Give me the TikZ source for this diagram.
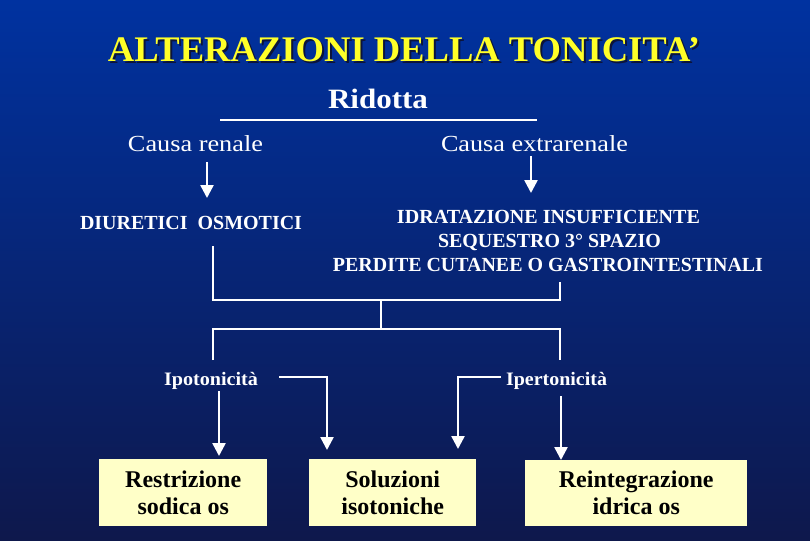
\documentclass[tikz,border=0pt]{standalone}
\usepackage{fontspec}
\setmainfont{Liberation Serif}
\usepackage{graphicx}
\usetikzlibrary{arrows.meta}
\definecolor{bgtop}{RGB}{0,50,160}
\definecolor{bgmid}{RGB}{6,38,126}
\definecolor{bgbot}{RGB}{14,24,76}
\definecolor{ttl}{RGB}{255,255,40}
\definecolor{ttlshadow}{RGB}{12,20,58}
\definecolor{boxfill}{RGB}{255,255,200}
\newcommand{\fw}[2]{\resizebox{#1}{\height}{#2}}
\tikzset{
  lbl/.style={text=white, inner sep=0pt, anchor=base},
  conn/.style={white, line width=2pt},
  arr/.style={white, line width=2.5pt, -{Triangle[width=13pt,length=13pt]}},
  remedy/.style={fill=boxfill, text=black, inner sep=0pt, anchor=north west,
    align=center, font=\fontsize{24}{27}\selectfont\bfseries}
}
\begin{document}
\begin{tikzpicture}[x=1pt,y=-1pt]
\begin{scope}[y=1pt]
  \shade[top color=bgtop, middle color=bgmid, bottom color=bgbot] (0,-540) rectangle (810,0);
\end{scope}
\useasboundingbox (0,0) rectangle (810,540);

% title
\node[lbl, text=ttlshadow, font=\fontsize{36}{40}\selectfont\bfseries] (titleshadow) at (406,64) {\fw{592pt}{ALTERAZIONI DELLA TONICITA’}};
\node[lbl, text=ttl, font=\fontsize{36}{40}\selectfont\bfseries] (title) at (404,62) {\fw{592pt}{ALTERAZIONI DELLA TONICITA’}};

% Ridotta
\node[lbl, font=\fontsize{28}{32}\selectfont\bfseries] (rid) at (378,109) {\fw{100pt}{Ridotta}};
\coordinate (ulL) at (220,120);
\coordinate (ulR) at (537,120);
\draw[white, line width=2pt] (ulL) -- (ulR);

% causes
\node[lbl, font=\fontsize{23}{26}\selectfont] (cr) at (195.5,152) {\fw{135pt}{Causa renale}};
\node[lbl, font=\fontsize{23}{26}\selectfont] (ce) at (534.5,152) {\fw{187pt}{Causa extrarenale}};

\coordinate (a1s) at (207,162);
\coordinate (a1e) at (207,198);
\coordinate (a2s) at (531,156);
\coordinate (a2e) at (531,193);
\draw[arr] (a1s) -- (a1e);
\draw[arr] (a2s) -- (a2e);

% second level
\node[lbl, font=\fontsize{20}{24}\selectfont\bfseries] (dio) at (191,229) {\fw{222pt}{DIURETICI\ \ OSMOTICI}};
\node[lbl, font=\fontsize{20}{24}\selectfont\bfseries] (i1) at (548.5,223) {\fw{303pt}{IDRATAZIONE INSUFFICIENTE}};
\node[lbl, font=\fontsize{20}{24}\selectfont\bfseries] (i2) at (549.5,247.5) {\fw{223pt}{SEQUESTRO 3° SPAZIO}};
\node[lbl, font=\fontsize{20}{24}\selectfont\bfseries] (i3) at (548,271.5) {\fw{430pt}{PERDITE CUTANEE O GASTROINTESTINALI}};

% junction lines
\coordinate (dL) at (213,246);
\coordinate (hL) at (213,300);
\coordinate (hR) at (560,300);
\coordinate (dR) at (560,282);
\coordinate (hC) at (381,300);
\coordinate (hC2) at (381,329);
\coordinate (h2L) at (213,329);
\coordinate (h2R) at (560,329);
\coordinate (ipoT) at (213,360);
\coordinate (iperT) at (560,360);
\draw[conn] (dL) -- (hL) -- (hR) -- (dR);
\draw[conn] (hC) -- (hC2);
\draw[conn] (ipoT) -- (h2L) -- (h2R) -- (iperT);

% third level
\node[lbl, font=\fontsize{19}{22}\selectfont\bfseries] (ipo) at (211,385) {\fw{94pt}{Ipotonicità}};
\node[lbl, font=\fontsize{19}{22}\selectfont\bfseries] (iper) at (556.5,385) {\fw{101pt}{Ipertonicità}};

% boxes
\node[remedy, minimum width=168pt, minimum height=67pt] (b1) at (99,459) {Restrizione\\sodica os};
\node[remedy, minimum width=167pt, minimum height=67pt] (b2) at (309,459) {Soluzioni\\isotoniche};
\node[remedy, minimum width=222pt, minimum height=66pt] (b3) at (525,459.5) {Reintegrazione\\idrica os};

% arrows to boxes
\coordinate (p1s) at (279,377);
\coordinate (p1c) at (327,377);
\coordinate (p1e) at (327,450);
\coordinate (q1s) at (501,377);
\coordinate (q1c) at (458,377);
\coordinate (q1e) at (458,449);
\coordinate (p2s) at (219,391);
\coordinate (p2e) at (219,456);
\coordinate (q2s) at (561,396);
\coordinate (q2e) at (561,460);
\draw[arr] (p1s) -- (p1c) -- (p1e);
\draw[arr] (q1s) -- (q1c) -- (q1e);
\draw[arr] (p2s) -- (p2e);
\draw[arr] (q2s) -- (q2e);
\end{tikzpicture}
\end{document}
